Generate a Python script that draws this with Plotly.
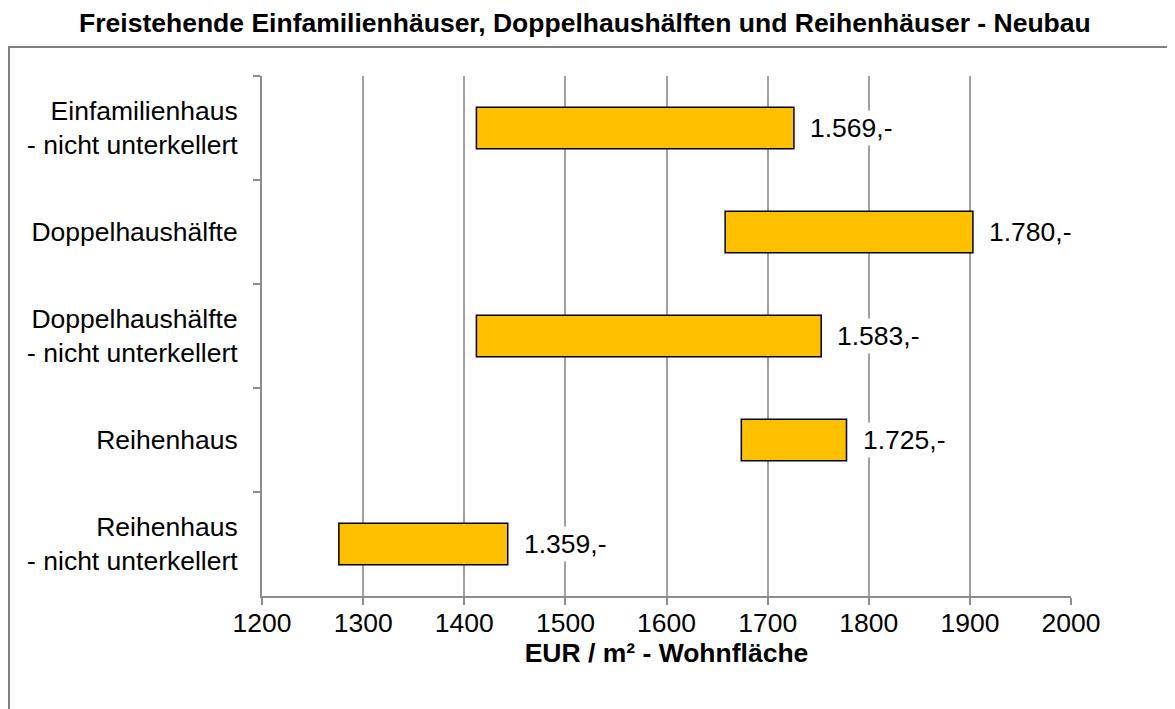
import plotly.graph_objects as go

# DATA ----------------------------------------------------------------
categories = [
    "Einfamilienhaus<br>- nicht unterkellert",
    "Doppelhaushälfte",
    "Doppelhaushälfte<br>- nicht unterkellert",
    "Reihenhaus",
    "Reihenhaus<br>- nicht unterkellert",
]
price_min = [1412, 1658, 1412, 1674, 1276]
price_max = [1726, 1903, 1753, 1778, 1443]
price_mean_labels = ["1.569,-", "1.780,-", "1.583,-", "1.725,-", "1.359,-"]
x_ticks = [1200, 1300, 1400, 1500, 1600, 1700, 1800, 1900, 2000]

FONT = "Liberation Sans, Arial, sans-serif"
GRID = "#a0a0a0"
FS = 26.5

# floating bars from min to max
fig = go.Figure(go.Bar(
    y=categories,
    x=[hi - lo for lo, hi in zip(price_min, price_max)],
    base=price_min,
    orientation="h",
    width=0.4,
    marker=dict(color="#ffc000", line=dict(color="#000000", width=1.5)),
    hoverinfo="skip",
))

# mean labels right of each bar
for cat, hi, lab in zip(categories, price_max, price_mean_labels):
    fig.add_annotation(
        x=hi, y=cat, text=lab, showarrow=False,
        xanchor="left", xshift=13,
        bgcolor="white", borderpad=2,
        font=dict(family=FONT, size=FS, color="black"),
    )

# outer frame (left + top only, the rest is cut off)
fig.add_shape(type="path", xref="paper", yref="paper",
              path="M -0.3127 -0.3 L -0.3127 1.0558 L 1.2 1.0558",
              line=dict(color="#808080", width=2), layer="below")

fig.update_layout(
    width=1175, height=709,
    margin=dict(l=254, r=112, t=68, b=121),
    paper_bgcolor="white", plot_bgcolor="white",
    showlegend=False,
    title=dict(
        text="<b>Freistehende Einfamilienhäuser, Doppelhaushälften und Reihenhäuser - Neubau</b>",
        x=0.491, xanchor="center", y=0.979, yanchor="middle",
        font=dict(family=FONT, size=FS, color="black"),
    ),
    xaxis=dict(
        range=[1200, 2000], tickvals=x_ticks,
        showgrid=True, gridcolor=GRID, gridwidth=1.5,
        showline=True, linecolor="#8c8c8c", linewidth=2,
        ticks="outside", ticklen=7, tickcolor="#8c8c8c", tickwidth=1.5,
        zeroline=False, automargin=False, ticklabelstandoff=-5,
        tickfont=dict(family=FONT, size=FS, color="black"),
        title=dict(text="<b>EUR / m² - Wohnfläche</b>", standoff=4,
                   font=dict(family=FONT, size=FS, color="black")),
    ),
    yaxis=dict(
        type="category", categoryorder="array", categoryarray=categories,
        autorange="reversed",
        showgrid=False, automargin=False,
        showline=True, linecolor="#8c8c8c", linewidth=2,
        ticks="outside", ticklen=7, tickcolor="#8c8c8c", tickwidth=1.5,
        tickson="boundaries", ticklabelstandoff=17,
        tickfont=dict(family=FONT, size=FS, color="black"),
    ),
    font=dict(family=FONT),
)

fig.write_html("out.html")
